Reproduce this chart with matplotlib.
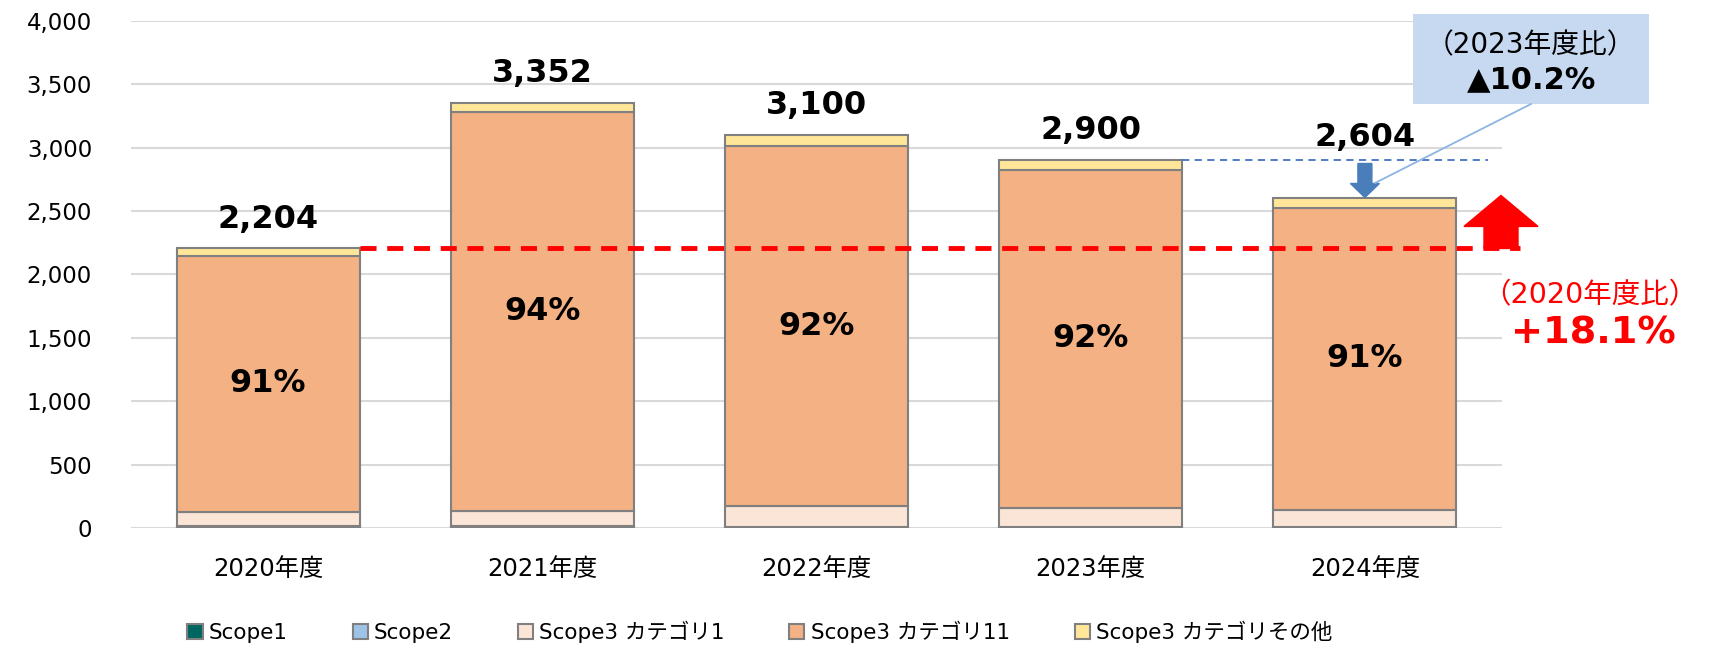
import matplotlib
matplotlib.use("Agg")
import matplotlib.pyplot as plt
from matplotlib.patches import FancyArrow, Rectangle
import numpy as np

plt.rcParams['font.family'] = ['DejaVu Sans', 'Noto Sans CJK JP']

years = ["2020年度", "2021年度", "2022年度", "2023年度", "2024年度"]
scope1 = [8, 8, 7, 7, 7]
scope2 = [4, 4, 3, 3, 3]
cat1 = [113, 122, 160, 147, 132]
cat11 = [2021, 3145, 2843, 2667, 2382]
cat_other = [58, 73, 87, 76, 80]
pct_labels = ["91%", "94%", "92%", "92%", "91%"]
series_names = ["Scope1", "Scope2", "Scope3 カテゴリ1", "Scope3 カテゴリ11", "Scope3 カテゴリその他"]
colors = ["#006660", "#9DC3E6", "#FBE5D6", "#F4B183", "#FFE699"]
yticks = [0, 500, 1000, 1500, 2000, 2500, 3000, 3500, 4000]
text_2023 = ["（2023年度比）", "▲10.2%"]
text_2020 = ["（2020年度比）", "+18.1%"]

W, H = 1709, 649
fig = plt.figure(figsize=(W / 100, H / 100), dpi=100)
ax = fig.add_axes([131 / W, 1 - 528 / H, (1502 - 131) / W, (528 - 20.7) / H])

x = np.arange(len(years))
bw = 0.667
series = [scope1, scope2, cat1, cat11, cat_other]
bottom = np.zeros(len(years))
handles = []
for vals, c, name in zip(series, colors, series_names):
    b = ax.bar(x, vals, bw, bottom=bottom, color=c, edgecolor="#808080",
               linewidth=1.5, label=name, zorder=3)
    handles.append(b)
    bottom = bottom + np.array(vals)
totals = bottom

ax.set_xlim(-0.5, len(years) - 0.5)
ax.set_ylim(0, 4000)
ax.set_yticks(yticks)
ax.set_yticklabels([f"{v:,}" for v in yticks], fontsize=16.5)
ax.set_xticks(x)
ax.set_xticklabels(years, fontsize=17.5)
ax.tick_params(axis="y", length=0, pad=28)
ax.tick_params(axis="x", length=0, pad=21)
for s in ax.spines.values():
    s.set_visible(False)
ax.grid(axis="y", color="#D9D9D9", linewidth=1.5, zorder=0)
ax.set_axisbelow(True)

# totals and percentages
for i in range(len(years)):
    extra = 22 if i == len(years) - 1 else 0
    ax.annotate(f"{int(totals[i]):,}", (x[i], totals[i]), xytext=(0, 10 + extra),
                textcoords="offset points", ha="center", va="bottom",
                fontsize=23, fontweight="bold", color="black")
    base = scope1[i] + scope2[i] + cat1[i]
    ax.text(x[i], base + cat11[i] / 2, pct_labels[i], ha="center", va="center",
            fontsize=23, fontweight="bold", color="black", zorder=4)

ax_x = lambda px: (px - 131) / 274.2 - 0.5
ax_y = lambda py: (528 - py) / 508 * 4000

# red dashed line at 2020 total
ax.plot([x[0] + bw / 2, ax_x(1520)], [totals[0], totals[0]], color="red",
        linestyle=(0, (3.3, 2.2)), linewidth=3.5, clip_on=False, zorder=5)

# red up arrow
ax.add_patch(FancyArrow(ax_x(1501), totals[0], 0, ax_y(195) - totals[0],
                        width=ax_x(1518) - ax_x(1484),
                        head_width=ax_x(1538) - ax_x(1464),
                        head_length=ax_y(195) - ax_y(226),
                        length_includes_head=True, color="red",
                        clip_on=False, zorder=6))

# blue dashed line at 2023 total
ax.plot([x[3] + bw / 2, ax_x(1488)], [totals[3], totals[3]], color="#4472C4",
        linestyle=(0, (4, 3)), linewidth=1.3, clip_on=False, zorder=5)

# blue down arrow
ax.add_patch(FancyArrow(x[4], ax_y(163), 0, ax_y(197) - ax_y(163),
                        width=ax_x(1369) - ax_x(1355),
                        head_width=ax_x(1377) - ax_x(1348),
                        head_length=ax_y(183) - ax_y(197),
                        length_includes_head=True, color="#4A7EBB",
                        clip_on=False, zorder=6))

# callout box (2023 comparison)
bx0, bx1, by0, by1 = 1413, 1649, 14, 104
box = Rectangle((bx0 / W, 1 - by1 / H), (bx1 - bx0) / W, (by1 - by0) / H,
                transform=fig.transFigure, facecolor="#C6D9F0",
                edgecolor="none", zorder=1)
fig.add_artist(box)
fig.add_artist(plt.Line2D([1531 / W, 1375 / W], [1 - 104 / H, 1 - 183 / H],
                          transform=fig.transFigure, color="#8DB4E2", linewidth=1.3,
                          zorder=1))
fig.text(1530 / W, 1 - 45 / H, text_2023[0], ha="center", va="center",
         fontsize=20, color="black", zorder=10)
fig.text(1532 / W, 1 - 80 / H, text_2023[1], ha="center", va="center",
         fontsize=22, fontweight="bold", color="black", zorder=10)

# 2020 comparison text
fig.text(1590 / W, 1 - 295 / H, text_2020[0], ha="center", va="center",
         fontsize=20.5, color="red")
fig.text(1593 / W, 1 - 334 / H, text_2020[1], ha="center", va="center",
         fontsize=27.5, fontweight="bold", color="red")

fig.legend(handles, series_names, loc="center", bbox_to_anchor=(760 / W, 1 - 632 / H),
           ncol=5, frameon=False, fontsize=15.5, handlelength=0.7, handleheight=0.7,
           handletextpad=0.3, columnspacing=3.0)

fig.savefig("out.png", dpi=100)
